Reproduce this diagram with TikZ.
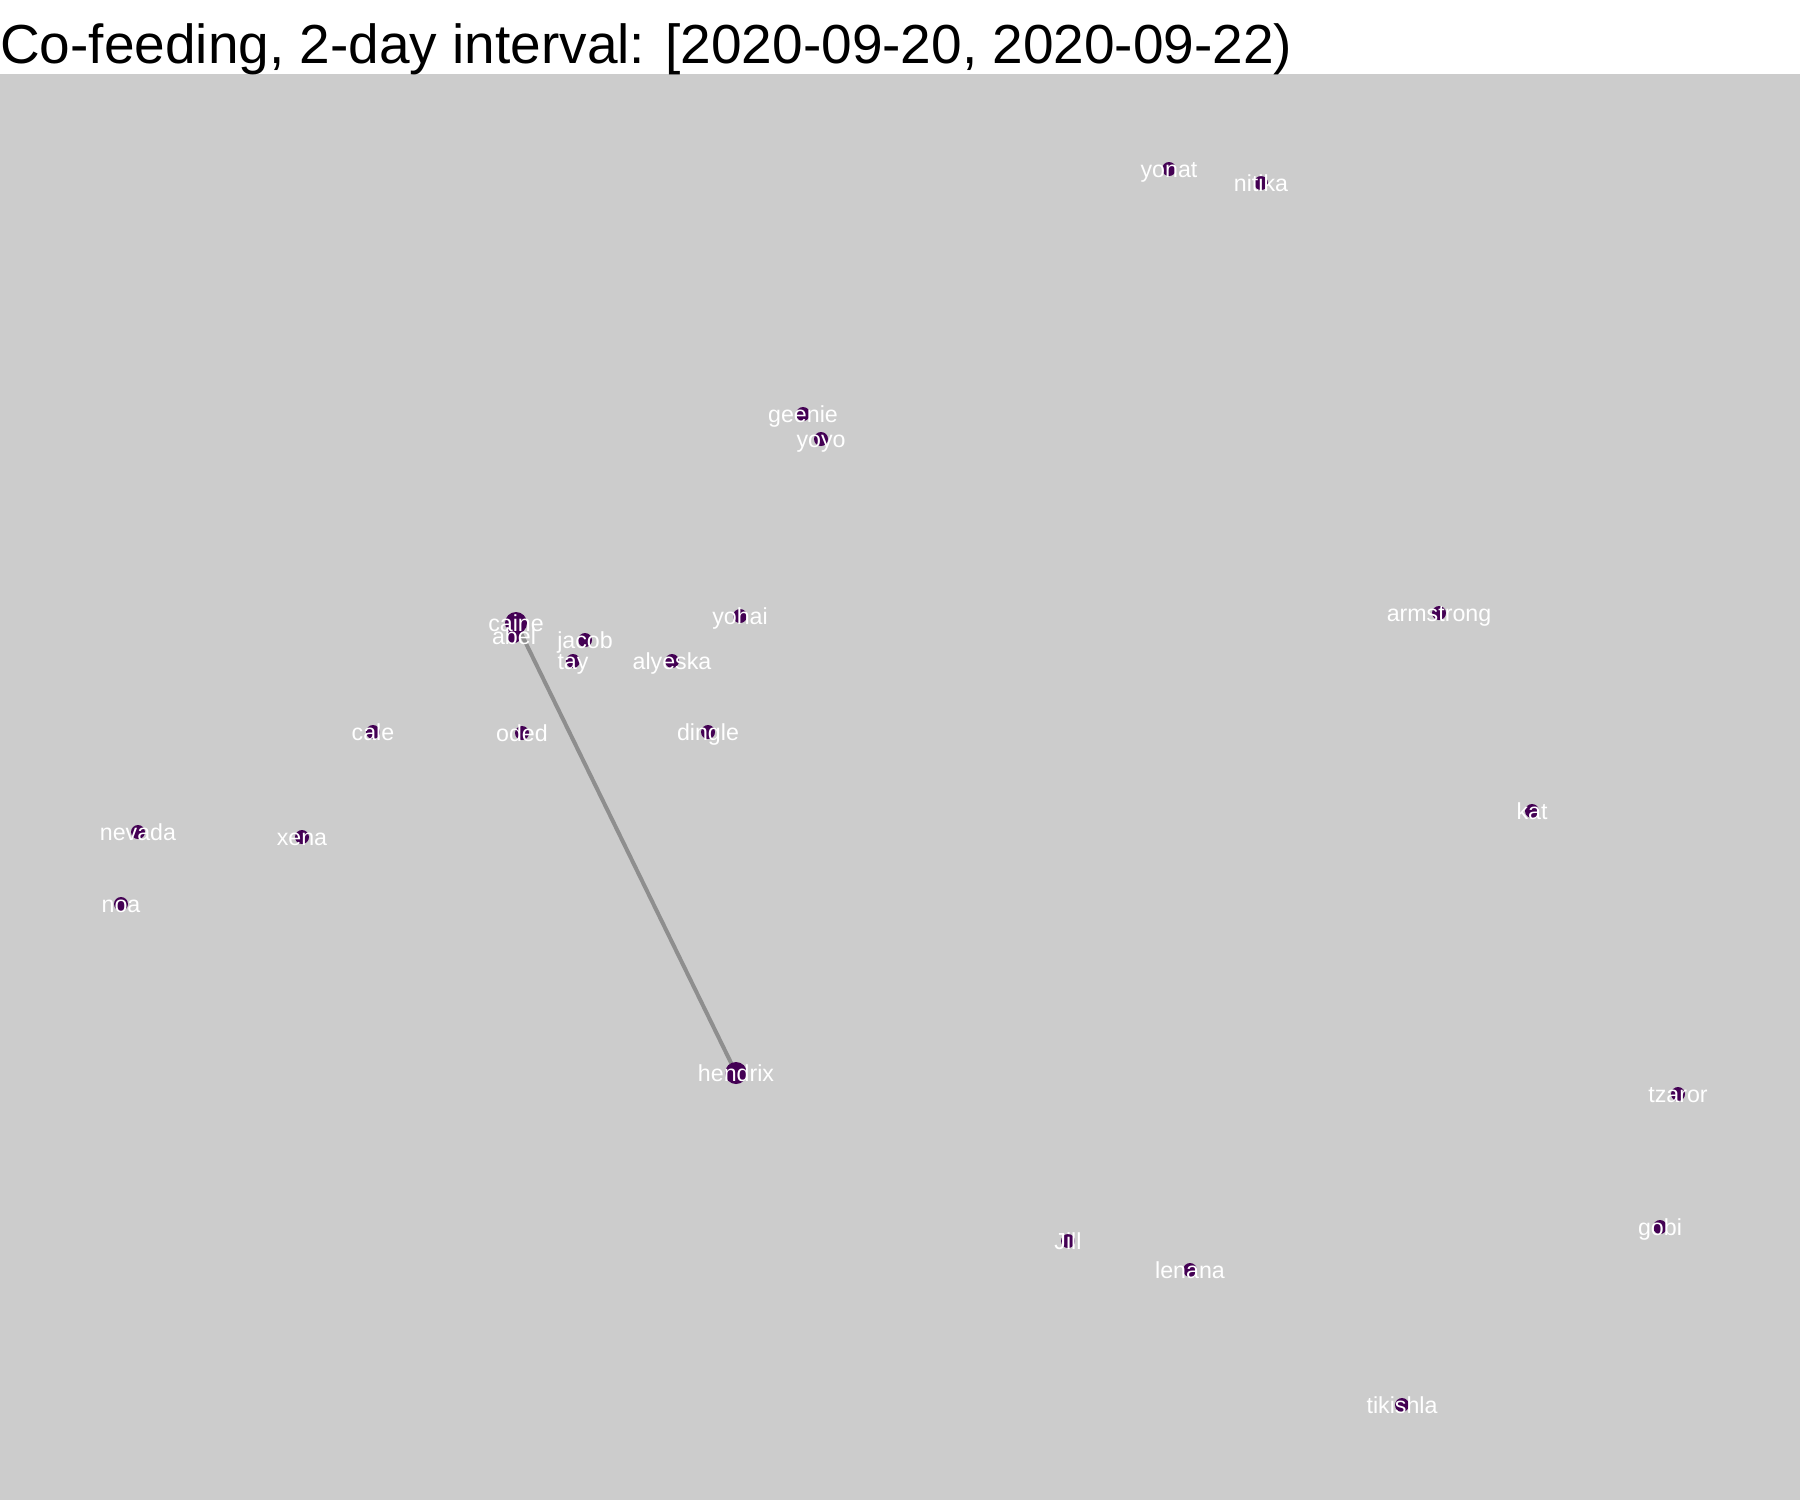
\documentclass[tikz,border=0pt]{standalone}
\usepackage{fontspec}
\setmainfont{Liberation Sans}
\usetikzlibrary{backgrounds}
\definecolor{panelgray}{HTML}{CCCCCC}
\definecolor{vir}{HTML}{440154}
\definecolor{edgegray}{HTML}{8E8E8E}
\begin{document}
\begin{tikzpicture}[x=1pt,y=-1pt,
  dot/.style={circle,fill=vir,inner sep=0pt,minimum size=14pt},
  bigdot/.style={dot,minimum size=22pt},
  lbl/.style={text=white,font=\fontsize{23.2}{27}\selectfont,inner sep=0pt,anchor=base,yshift=-8pt},
  edgeline/.style={draw=edgegray,line width=4pt}]
\useasboundingbox (0,0) rectangle (1800,1500);
\begin{scope}[on background layer]
\fill[white] (0,0) rectangle (1800,74);
\fill[panelgray] (0,74) rectangle (1800,1500);
\end{scope}
\node[anchor=base west,inner sep=0pt,font=\fontsize{55}{60}\selectfont] (title) at (0,63) {Co-feeding, 2-day interval: [2020-09-20, 2020-09-22)};
% nodes
\foreach \n/\x/\y in {abel/514/636,jacob/585/640,tay/573/661,alyeska/672/661,yohai/740/616,oded/522/733,dingle/708/732,yonat/1169/169,nitika/1261/183,geenie/803/414,yoyo/821/439,Jill/1068/1241,lenana/1190/1270,armstrong/1439/613,nevada/138/832,xena/302/837,noa/121/904,cale/373/732,kat/1532/811,tzaror/1678/1094,gobi/1660/1227,tikishla/1402/1405}
  {\node[dot] (\n) at (\x,\y) {};}
\node[bigdot] (caine) at (516,623) {};
\node[bigdot] (hendrix) at (736,1073) {};
\begin{scope}[on background layer]
\draw[edgeline] (caine.center) -- (hendrix.center);
\end{scope}
% labels
\foreach \n/\x/\y in {caine/516/623,hendrix/736/1073,abel/514/636,jacob/585/640,tay/573/661,alyeska/672/661,yohai/740/616,oded/522/733,dingle/708/732,yonat/1169/169,nitika/1261/183,geenie/803/414,yoyo/821/439,Jill/1068/1241,lenana/1190/1270,armstrong/1439/613,nevada/138/832,xena/302/837,noa/121/904,cale/373/732,kat/1532/811,tzaror/1678/1094,gobi/1660/1227,tikishla/1402/1405}
  {\node[lbl] (l-\n) at (\x,\y) {\n};}
\end{tikzpicture}
\end{document}
